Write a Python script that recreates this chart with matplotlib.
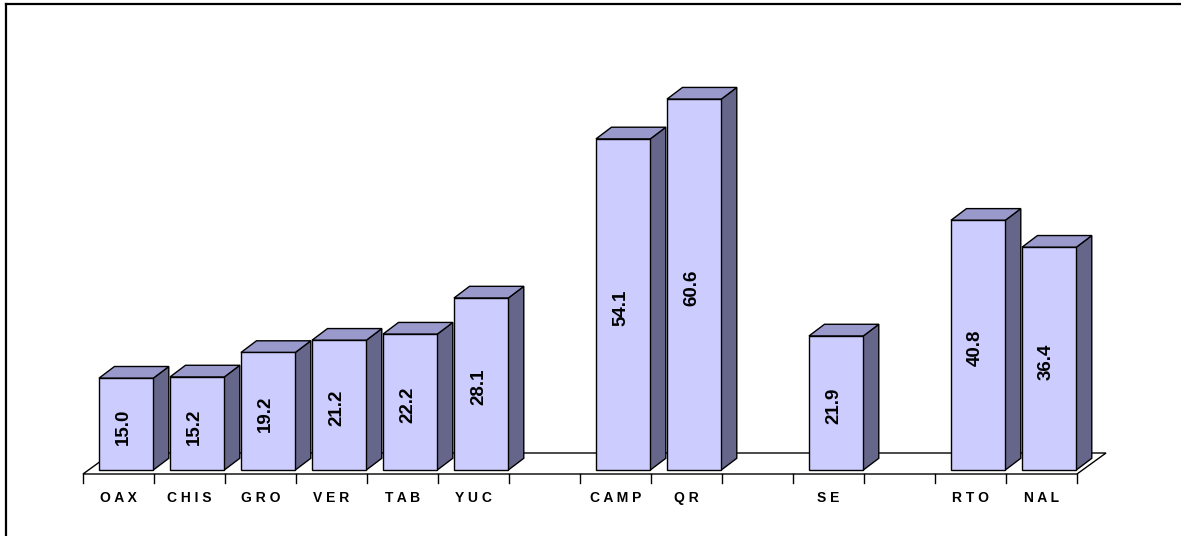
import matplotlib
matplotlib.use("Agg")
import matplotlib.pyplot as plt
from matplotlib.patches import Polygon
from matplotlib.lines import Line2D

# ---- data ----
labels = ["OAX", "CHIS", "GRO", "VER", "TAB", "YUC", "", "CAMP", "QR", "", "SE", "", "RTO", "NAL"]
values = [15.0, 15.2, 19.2, 21.2, 22.2, 28.1, None, 54.1, 60.6, None, 21.9, None, 40.8, 36.4]

# ---- styling ----
FRONT = "#CCCCFF"
SIDE = "#66668A"
TOP = "#9999CC"
W, H, DPI = 11.81, 5.36, 100
plt.rcParams["font.family"] = ["Liberation Sans", "DejaVu Sans"]

fig = plt.figure(figsize=(W, H), dpi=DPI)
ax = fig.add_axes([0, 0, 1, 1])
# pixel geometry of the plotting area (slot width / units per value)
px_slot = 71.0
px_unit = 6.12
x0_px, y0_px = 83.0, 470.0
ax.set_xlim(-x0_px / px_slot, (1181 - x0_px) / px_slot)
ax.set_ylim(-(536 - y0_px) / px_unit, y0_px / px_unit)
ax.axis("off")

n = len(labels)
# 3D depth offsets
bdx, bdy = 15.5 / px_slot, 11.7 / px_unit        # bar depth
fdx, fdy = 29.0 / px_slot, 21.0 / px_unit        # floor depth
floor_front = -4.0 / px_unit

# floor
floor = Polygon([(0, floor_front), (n, floor_front), (n + fdx, floor_front + fdy),
                 (fdx, floor_front + fdy)], closed=True, facecolor="white",
                edgecolor="black", lw=1.0, zorder=1)
ax.add_patch(floor)
# ticks
for i in range(n + 1):
    ax.plot([i, i], [floor_front, floor_front - 8.5 / px_unit], color="black", lw=1.0, zorder=1)

# bars
for i, (lab, v) in enumerate(zip(labels, values)):
    if v is None:
        continue
    xl, xr = i + 0.225, i + 0.99
    front = Polygon([(xl, 0), (xr, 0), (xr, v), (xl, v)], closed=True,
                    facecolor=FRONT, edgecolor="black", lw=1.0, zorder=3)
    side = Polygon([(xr, 0), (xr + bdx, bdy), (xr + bdx, v + bdy), (xr, v)], closed=True,
                   facecolor=SIDE, edgecolor="black", lw=1.0, zorder=3)
    top = Polygon([(xl, v), (xr, v), (xr + bdx, v + bdy), (xl + bdx, v + bdy)], closed=True,
                  facecolor=TOP, edgecolor="black", lw=1.0, zorder=3)
    for p in (side, top, front):
        ax.add_patch(p)
    ax.text(i + 0.57, v / 2 - 0.5, f"{v:.1f}", rotation=90, ha="center", va="center",
            fontsize=13.5, fontweight="bold", color="black", zorder=4)

# category labels (letter-spaced)
for i, lab in enumerate(labels):
    if not lab:
        continue
    ax.text(i + 0.5, -28.0 / px_unit, " ".join(lab), ha="center", va="center",
            fontsize=10, fontweight="bold", color="black", zorder=4)

# outer frame (left and top edges visible)
fig.add_artist(Line2D([6 / 1181, 6 / 1181], [0, 1 - 4 / 536], transform=fig.transFigure,
                      color="black", lw=1.6))
fig.add_artist(Line2D([6 / 1181, 1], [1 - 4 / 536, 1 - 4 / 536], transform=fig.transFigure,
                      color="black", lw=1.6))

fig.savefig("out.png", dpi=DPI)
